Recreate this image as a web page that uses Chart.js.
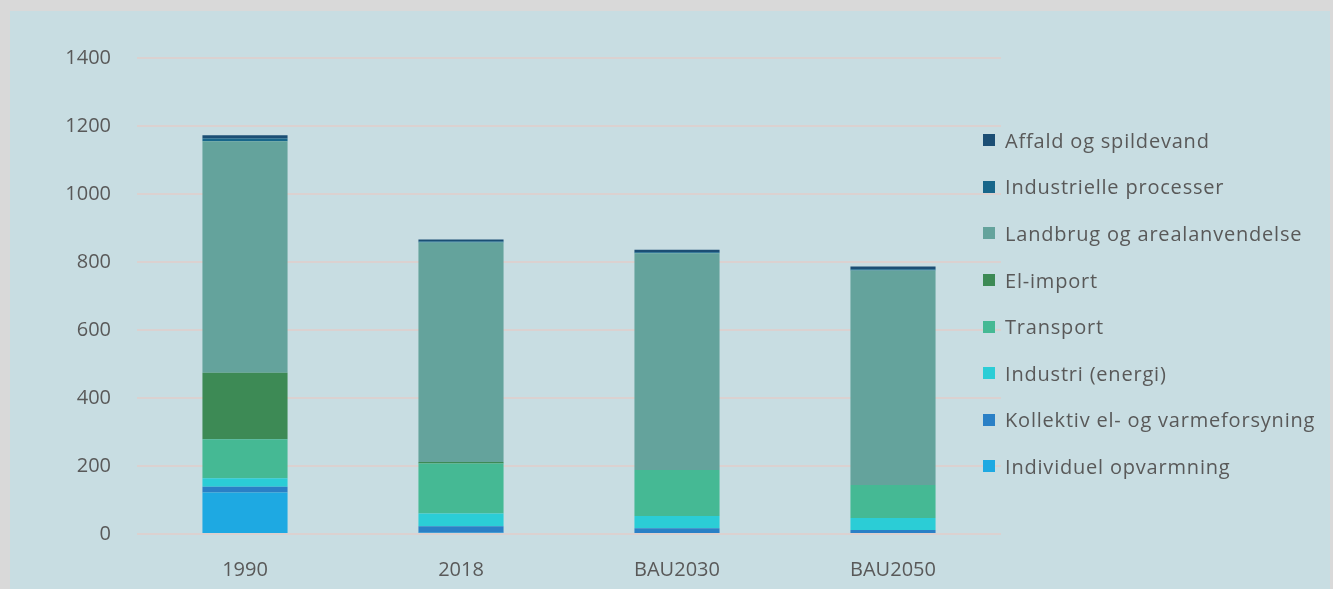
<!DOCTYPE html>
<html>
<head>
<meta charset="utf-8">
<script src="https://cdn.jsdelivr.net/npm/chart.js@4"></script>
<style>
  html, body { margin:0; padding:0; width:1333px; height:589px; background:#d9d9d9; overflow:hidden; }
  #wrap { position:absolute; left:10px; top:11px; width:1320px; height:578px; background:#c8dde2; }
  #c { position:absolute; left:0; top:0; }
  #legend { position:absolute; left:0; top:0; font-family:"Open Sans", sans-serif; font-size:20px; letter-spacing:0.8px; color:#595959; }
  .li { position:absolute; display:flex; align-items:center; white-space:nowrap; }
  .bx { width:12px; height:12px; margin-right:10px; }
</style>
</head>
<body>
<div id="wrap">
  <canvas id="c" width="1320" height="578"></canvas>
  <div id="legend"></div>
</div>
<script>
const categories = ["1990", "2018", "BAU2030", "BAU2050"];
const yTicks = [0, 200, 400, 600, 800, 1000, 1200, 1400];

const individuelOpvarmning = [122, 4, 3, 3];
const kollektivElVarme = [17, 19, 14, 9];
const industriEnergi = [25, 37, 36, 35];
const transport = [115, 147, 135, 97];
const elImport = [195, 5, 0, 0];
const landbrugAreal = [681, 645, 638, 631];
const industrielleProcesser = [8, 3, 3, 4];
const affaldSpildevand = [10, 6, 7, 8];

const seriesNames = ["Individuel opvarmning", "Kollektiv el- og varmeforsyning", "Industri (energi)", "Transport", "El-import", "Landbrug og arealanvendelse", "Industrielle processer", "Affald og spildevand"];
const seriesValues = [individuelOpvarmning, kollektivElVarme, industriEnergi, transport, elImport, landbrugAreal, industrielleProcesser, affaldSpildevand];
const seriesColors = ["#1ea9e2", "#2a80c6", "#2bcdd6", "#45b994", "#3d8a55", "#64a39c", "#17668a", "#1b4e74"];

const datasets = seriesNames.map((n, i) => ({
  label: n,
  data: seriesValues[i],
  backgroundColor: seriesColors[i],
  borderWidth: 0,
  barPercentage: 0.394,
  categoryPercentage: 1.0
}));

const FONT = { family: "'Open Sans', sans-serif", size: 20 };

new Chart(document.getElementById('c'), {
  type: 'bar',
  data: { labels: categories, datasets },
  options: {
    responsive: false,
    animation: false,
    layout: { padding: { left: 0, top: 47, right: 329, bottom: 0 } },
    plugins: { legend: { display: false }, tooltip: { enabled: false } },
    scales: {
      x: {
        stacked: true,
        grid: { display: false },
        border: { display: false },
        ticks: { color: '#595959', font: FONT, padding: 16 },
        afterFit: s => { s.height = 55; }
      },
      y: {
        stacked: true,
        min: 0, max: 1400,
        afterBuildTicks: s => { s.ticks = yTicks.map(v => ({ value: v })); },
        grid: { color: '#dbd1d0', lineWidth: 2, drawTicks: false },
        border: { display: false },
        ticks: { color: '#595959', font: FONT, padding: 26, callback: v => String(v) },
        afterFit: s => { s.width = 127; }
      }
    }
  }
});

// legend (reverse order, top = last series)
const leg = document.getElementById('legend');
const order = seriesNames.map((_, i) => i).reverse();
order.forEach((idx, k) => {
  const d = document.createElement('div');
  d.className = 'li';
  const cy = 140.2 - 11 + k * 46.6;
  d.style.left = (983 - 10) + 'px';
  d.style.top = (cy - 13) + 'px';
  d.style.height = '26px';
  const b = document.createElement('span');
  b.className = 'bx';
  b.style.background = seriesColors[idx];
  const t = document.createElement('span');
  t.textContent = seriesNames[idx];
  d.appendChild(b); d.appendChild(t);
  leg.appendChild(d);
});
</script>
</body>
</html>
